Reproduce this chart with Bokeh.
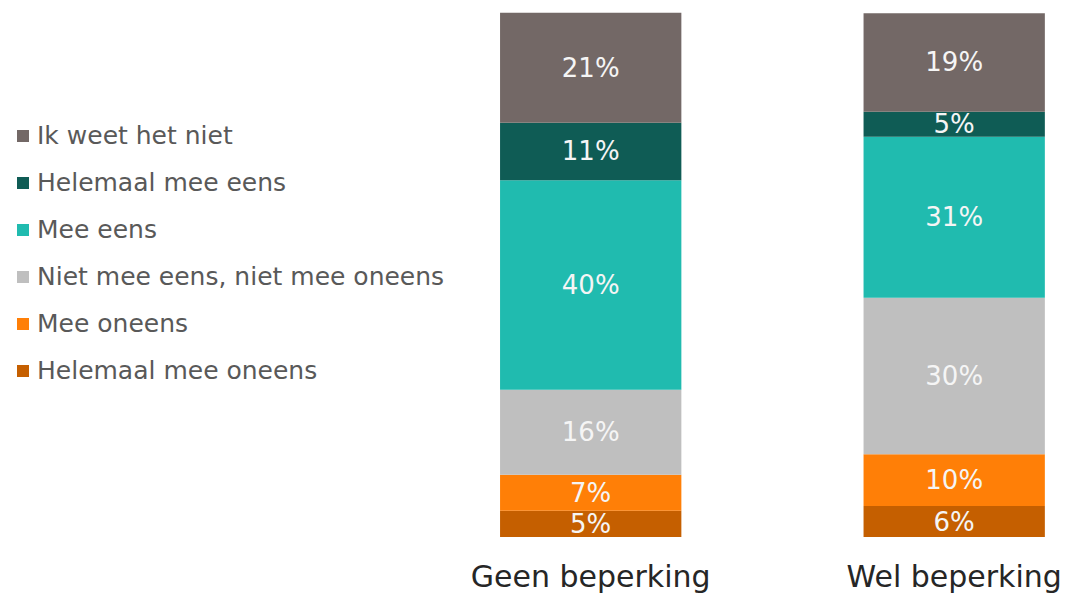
from bokeh.plotting import figure
from bokeh.models import ColumnDataSource, Range1d, Legend, LegendItem
from bokeh.core.properties import value
from bokeh.embed import file_html
from bokeh.resources import INLINE

categories = ["Geen beperking", "Wel beperking"]
series = ["Helemaal mee oneens", "Mee oneens", "Niet mee eens, niet mee oneens",
          "Mee eens", "Helemaal mee eens", "Ik weet het niet"]
helemaal_mee_oneens = [5.0, 5.9]
mee_oneens = [6.9, 9.9]
neutraal = [16.2, 29.9]
mee_eens = [40.0, 30.7]
helemaal_mee_eens = [11.0, 4.8]
weet_niet = [21.0, 18.8]
labels = {
    "Helemaal mee oneens": ["5%", "6%"],
    "Mee oneens": ["7%", "10%"],
    "Niet mee eens, niet mee oneens": ["16%", "30%"],
    "Mee eens": ["40%", "31%"],
    "Helemaal mee eens": ["11%", "5%"],
    "Ik weet het niet": ["21%", "19%"],
}
colors = ["#C55F00", "#FF7F07", "#BFBFBF", "#20BBAF", "#0F5C55", "#736866"]

values = [helemaal_mee_oneens, mee_oneens, neutraal, mee_eens, helemaal_mee_eens, weet_niet]
xpos = [0, 1]

W, H = 1067, 593
p = figure(width=W, height=H, output_backend="svg", toolbar_location=None,
           min_border=0, outline_line_color=None,
           x_range=Range1d(-1.6237, 1.3117),
           y_range=Range1d(-10.78, 102.42))
p.axis.visible = False
p.grid.visible = False
p.background_fill_color = "white"
p.border_fill_color = "white"

FONT = "DejaVu Sans"
renderers = []
bottoms = [0.0, 0.0]
for name, vals, col in zip(series, values, colors):
    tops = [b + v for b, v in zip(bottoms, vals)]
    src = ColumnDataSource(dict(x=xpos, bottom=bottoms, top=tops,
                                mid=[(b + t) / 2 for b, t in zip(bottoms, tops)],
                                lab=labels[name]))
    r = p.vbar(x="x", bottom="bottom", top="top", width=0.4988, source=src,
               fill_color=col, line_color=None)
    renderers.append((name, r))
    p.text(x="x", y="mid", text="lab", source=src, text_align="center",
           text_baseline="middle", text_color="#F5F5F5",
           text_font=value(FONT), text_font_size="26px")
    bottoms = tops

cat_src = ColumnDataSource(dict(x=xpos, y=[-7.6, -7.6], t=categories))
p.text(x="x", y="y", text="t", source=cat_src, text_align="center",
       text_baseline="middle", text_color="#262626",
       text_font=value(FONT), text_font_size="30px")

items = [LegendItem(label=n, renderers=[r]) for n, r in reversed(renderers)]
legend = Legend(items=items, location=(15, 208), orientation="vertical",
                glyph_width=15, glyph_height=15, label_height=30, spacing=17,
                label_standoff=7, padding=0, margin=0,
                border_line_color=None, background_fill_alpha=0,
                label_text_font=FONT, label_text_font_size="25px",
                label_text_color="#595959")
p.add_layout(legend, "center")

open("out.html", "w").write(file_html(p, INLINE))
